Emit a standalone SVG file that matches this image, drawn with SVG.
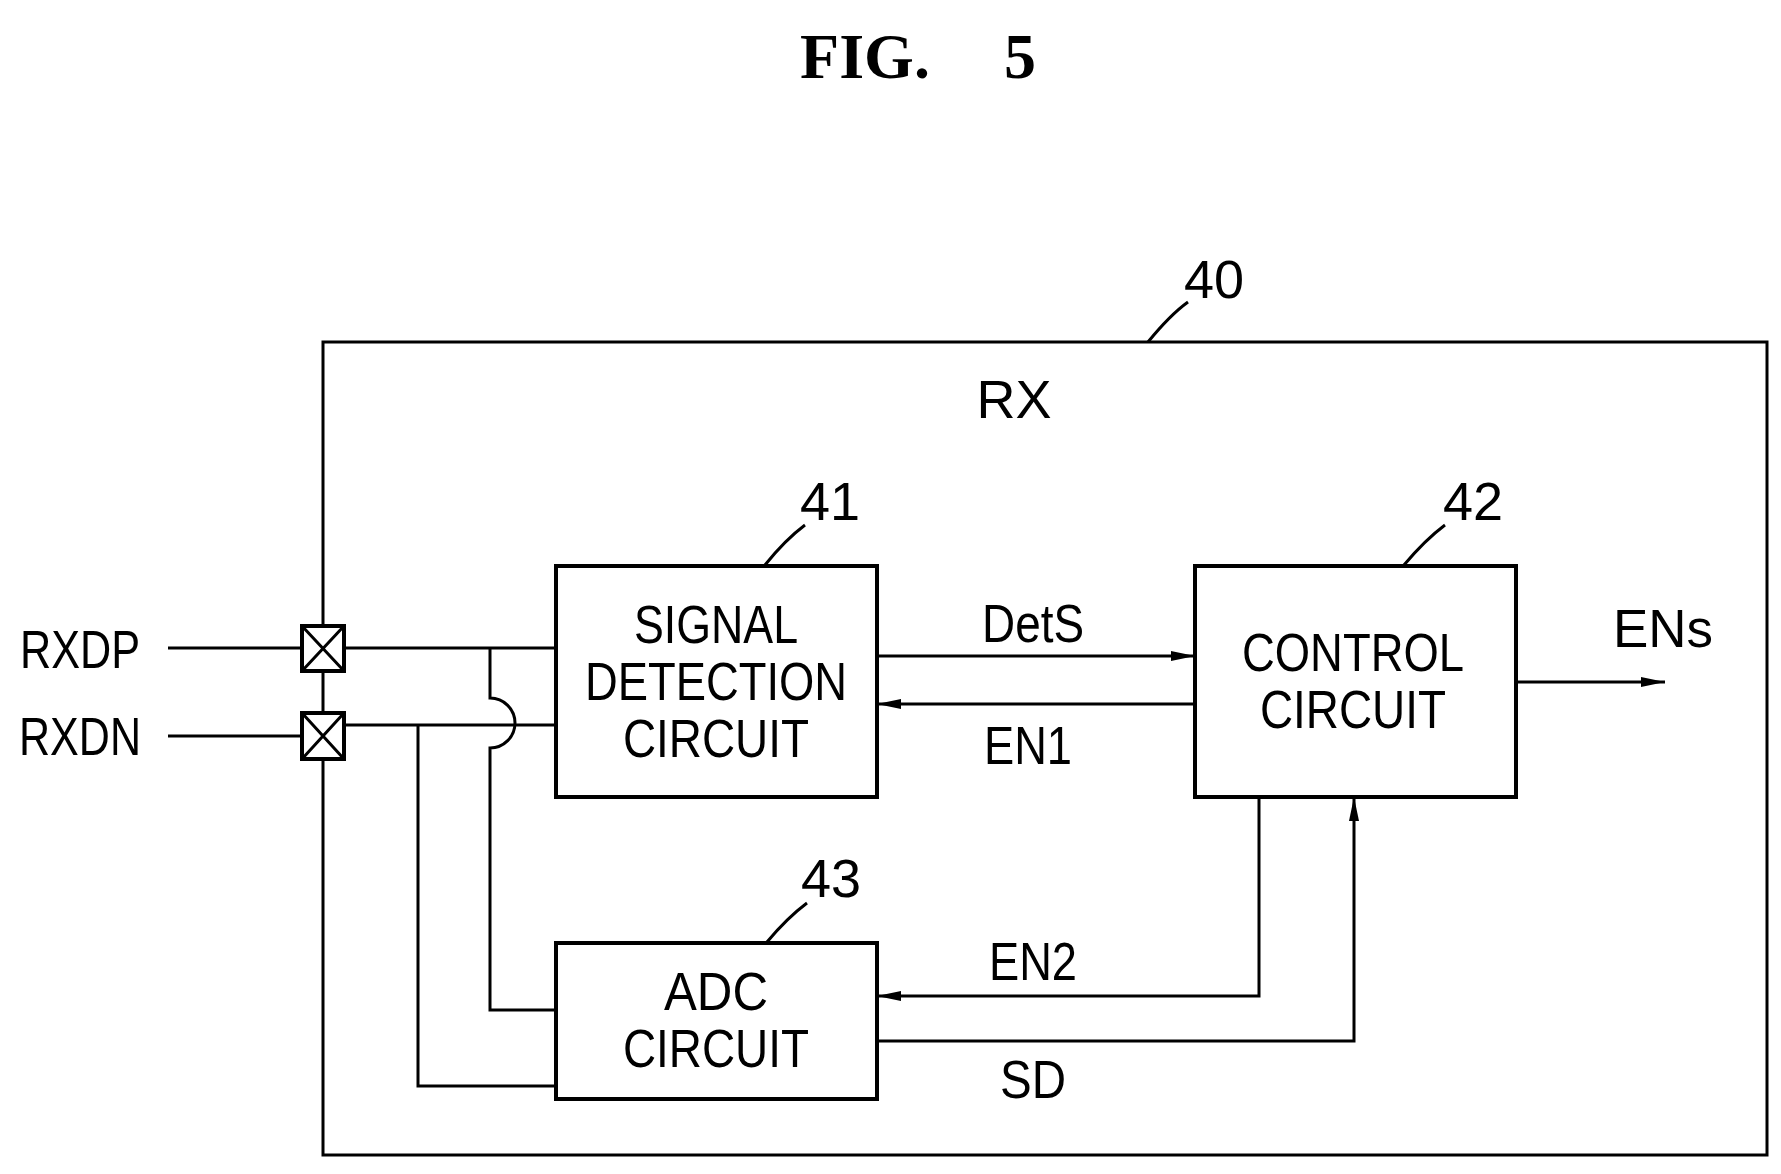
<svg xmlns="http://www.w3.org/2000/svg" width="1781" height="1174" viewBox="0 0 1781 1174">
<style>
.l{fill:none;stroke:#000;stroke-width:3}
.b{fill:#fff;stroke:#000;stroke-width:4}
text{font-family:"Liberation Sans",Arial,sans-serif;font-size:54px;fill:#000}
.c{text-anchor:middle}
.t{font-family:"Liberation Serif",serif;font-weight:bold;font-size:64px}
</style>
<defs><marker id="a2" markerWidth="24" markerHeight="12" refX="24" refY="6" orient="auto" markerUnits="userSpaceOnUse"><path d="M0,1L24,6L0,11z" fill="#000"/></marker></defs>
<rect width="1781" height="1174" fill="#fff"/>
<text x="865" y="78" class="c t">FIG.</text><text x="1020" y="78" class="c t">5</text>
<g id="rx40"><rect class="l" x="323" y="342" width="1444" height="813"/><text x="1014" y="418" class="c">RX</text>
<text x="1214" y="298" class="c">40</text><path class="l" d="M1148,342Q1170,315 1188,302"/></g>
<g id="pads"><rect class="b" x="302" y="626" width="42" height="45"/><path class="l" d="M302,626L344,671M344,626L302,671"/>
<rect class="b" x="302" y="713" width="42" height="46"/><path class="l" d="M302,713L344,759M344,713L302,759"/>
<text x="80" y="668" class="c" textLength="120" lengthAdjust="spacingAndGlyphs">RXDP</text>
<text x="80" y="755" class="c" textLength="122" lengthAdjust="spacingAndGlyphs">RXDN</text></g>
<g id="n41"><rect class="b" x="556" y="566" width="321" height="231"/>
<text x="716" y="643" class="c" textLength="164" lengthAdjust="spacingAndGlyphs">SIGNAL</text>
<text x="716" y="700" class="c" textLength="262" lengthAdjust="spacingAndGlyphs">DETECTION</text>
<text x="716" y="757" class="c" textLength="186" lengthAdjust="spacingAndGlyphs">CIRCUIT</text>
<text x="830" y="520" class="c">41</text><path class="l" d="M765,565Q785,540 805,525"/></g>
<g id="n42"><rect class="b" x="1195" y="566" width="321" height="231"/>
<text x="1353" y="671" class="c" textLength="222" lengthAdjust="spacingAndGlyphs">CONTROL</text>
<text x="1353" y="728" class="c" textLength="186" lengthAdjust="spacingAndGlyphs">CIRCUIT</text>
<text x="1473" y="520" class="c">42</text><path class="l" d="M1404,565Q1425,540 1445,525"/></g>
<g id="n43"><rect class="b" x="556" y="943" width="321" height="156"/>
<text x="716" y="1010" class="c" textLength="104" lengthAdjust="spacingAndGlyphs">ADC</text>
<text x="716" y="1067" class="c" textLength="186" lengthAdjust="spacingAndGlyphs">CIRCUIT</text>
<text x="831" y="897" class="c">43</text><path class="l" d="M767,942Q787,918 807,903"/></g>
<g id="connectors">
<path class="l" d="M168,648H302M168,736H302M344,648H556M344,725H556"/>
<path class="l" d="M490,648V698A13.5,13.5 0 0 1 490,748V1010H556"/>
<path class="l" d="M418,725V1086H556"/>
<path class="l" d="M877,656H1195" marker-end="url(#a2)"/>
<path class="l" d="M1195,704H877" marker-end="url(#a2)"/>
<path class="l" d="M1516,682H1665" marker-end="url(#a2)"/>
<path class="l" d="M1259,797V996H877" marker-end="url(#a2)"/>
<path class="l" d="M877,1041H1354V797" marker-end="url(#a2)"/>
<text x="1033" y="642" class="c" textLength="102" lengthAdjust="spacingAndGlyphs">DetS</text>
<text x="1028" y="764" class="c" textLength="88" lengthAdjust="spacingAndGlyphs">EN1</text>
<text x="1663" y="647" class="c" textLength="100" lengthAdjust="spacingAndGlyphs">ENs</text>
<text x="1033" y="980" class="c" textLength="88" lengthAdjust="spacingAndGlyphs">EN2</text>
<text x="1033" y="1098" class="c" textLength="66" lengthAdjust="spacingAndGlyphs">SD</text>
</g>
</svg>
